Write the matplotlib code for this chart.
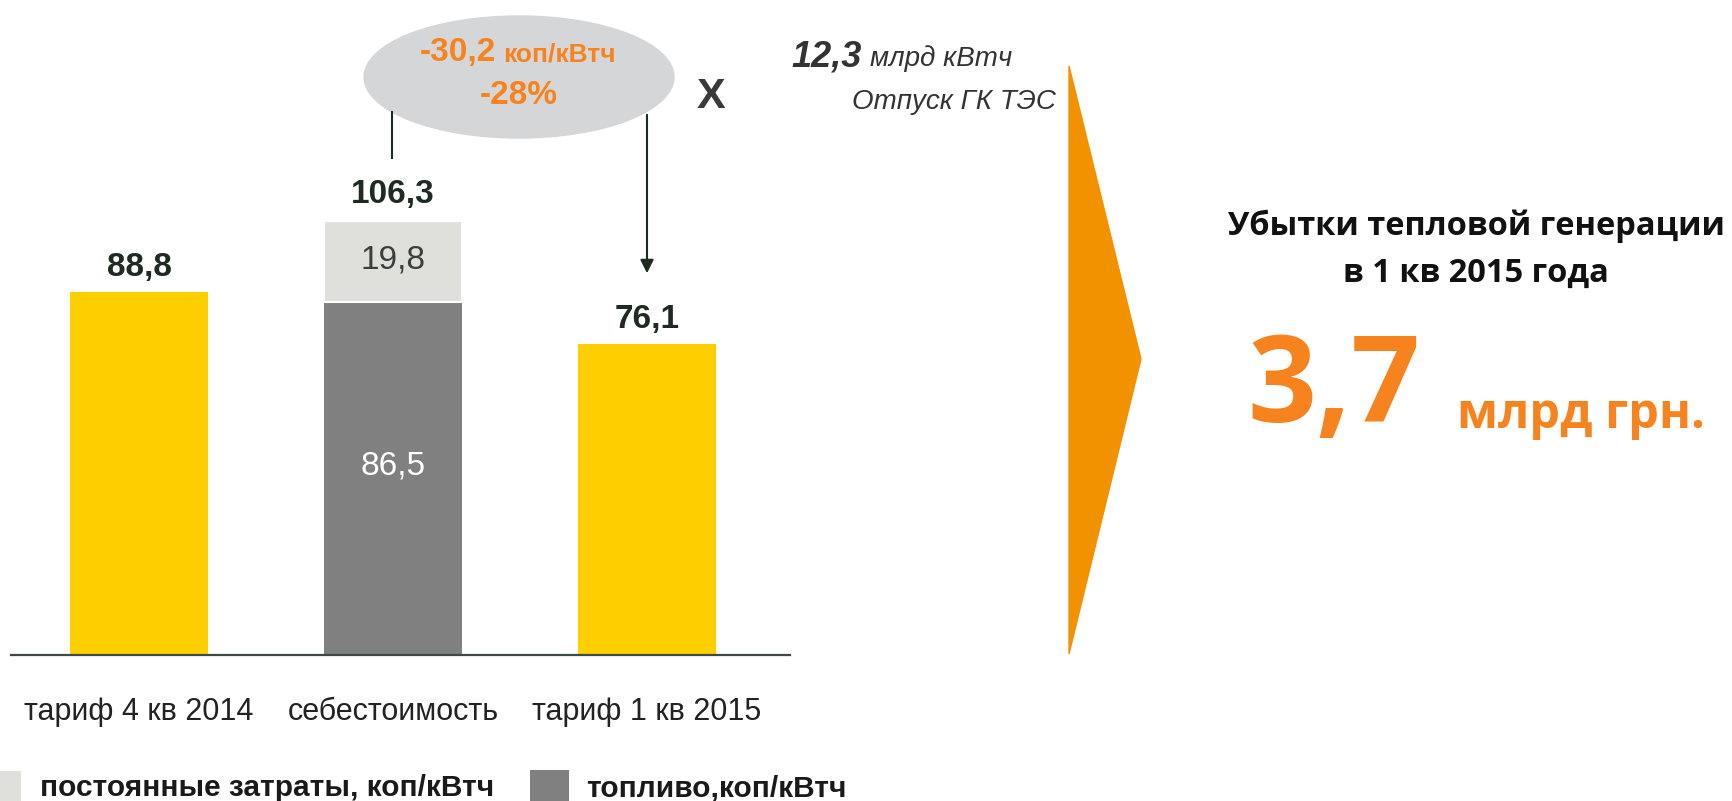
import matplotlib.pyplot as plt
from matplotlib.patches import Ellipse, Polygon

W, H = 1733, 801

# data
categories = ["тариф 4 кв 2014", "себестоимость", "тариф 1 кв 2015"]
tariffs = [88.8, None, 76.1]
fuel = 86.5
fixed = 19.8
cost_total = 106.3
legend_labels = ["постоянные затраты, коп/кВтч", "топливо,коп/кВтч"]
delta_text = "-30,2"
delta_unit = "коп/кВтч"
delta_pct = "-28%"
volume = "12,3"
volume_unit = "млрд кВтч"
volume_note = "Отпуск ГК ТЭС"
loss_title = "Убытки тепловой генерации\nв 1 кв 2015 года"
loss_value = "3,7"
loss_unit = "млрд грн."

YELLOW = "#FDCF00"
DARK = "#808080"
LIGHT = "#DFDFDC"
ORANGE = "#F7831F"
TXT = "#1E2A22"

narrow = ["Liberation Sans Narrow", "Liberation Sans", "DejaVu Sans"]
plt.rcParams["font.family"] = narrow

fig = plt.figure(figsize=(W / 100, H / 100), dpi=100)

# bar axes: baseline at y=655px, axis line from x=11 to 790
ax_bottom = (H - 655) / H
ax = fig.add_axes([11 / W, ax_bottom, 779 / W, 490 / H])
ax.set_xlim(-0.504, 2.563)
ax.set_ylim(0, 120)
width = 0.543

ax.bar(0, tariffs[0], width=width, color=YELLOW)
ax.bar(2, tariffs[2], width=width, color=YELLOW)
b_fuel = ax.bar(1, fuel, width=width, color=DARK)
b_fixed = ax.bar(1, fixed, width=width, bottom=fuel, color=LIGHT,
                 edgecolor="white", linewidth=1.5)

lab_kw = dict(ha="center", va="bottom", fontsize=24, fontweight="bold", color=TXT)
ax.text(0, tariffs[0] + 2.2, "88,8", **lab_kw)
ax.text(2, tariffs[2] + 2.2, "76,1", **lab_kw)
ax.text(1, cost_total + 2.8, "106,3", **lab_kw)
ax.text(1, fuel + fixed / 2 + 0.3, "19,8", ha="center", va="center", fontsize=24, color="#3A3F3C")
ax.text(1, fuel / 2 + 3, "86,5", ha="center", va="center", fontsize=24, color="white")

for s in ["top", "left", "right"]:
    ax.spines[s].set_visible(False)
ax.spines["bottom"].set_color("#3E4A42")
ax.spines["bottom"].set_linewidth(1.6)
ax.set_yticks([])
ax.set_xticks(range(3))
ax.set_xticklabels(categories, fontsize=22, color="#222222")
ax.tick_params(axis="x", length=0, pad=30)
ax.patch.set_alpha(0)

# legend
fig.legend([b_fixed, b_fuel], legend_labels, loc="center left",
           bbox_to_anchor=(-44 / W, 1 - 786 / H), ncol=2, frameon=False,
           prop=dict(family=narrow, size=21.5, weight="bold"),
           handlelength=1.3, handleheight=1.3, handletextpad=0.6, columnspacing=1.2,
           labelcolor="#1A1A1A")

# overlay in pixel coordinates for the annotations
ov = fig.add_axes([0, 0, 1, 1])
ov.set_xlim(0, W)
ov.set_ylim(H, 0)
ov.axis("off")
ov.patch.set_alpha(0)
ov.add_patch(Ellipse((519, 77), 310, 122, color="#D5D6D8", zorder=1))
ov.text(496, 53, delta_text, ha="right", va="center", fontsize=24, fontweight="bold", color=ORANGE)
ov.text(503, 55, delta_unit, ha="left", va="center", fontsize=19, fontweight="bold", color=ORANGE)
ov.text(519, 95, delta_pct, ha="center", va="center", fontsize=24, fontweight="bold", color=ORANGE)
ov.plot([392, 392], [112, 158], color=TXT, lw=1.5)
ov.annotate("", xy=(647, 276), xytext=(647, 112),
            arrowprops=dict(arrowstyle="-|>", color=TXT, lw=1.5, mutation_scale=20))
ov.text(711, 97, "X", ha="center", va="center", fontsize=31, fontweight="bold", color="#3A3A3A")

ov.text(862, 57, volume, ha="right", va="center", fontsize=26, fontweight="bold",
        style="italic", color="#333333")
ov.text(870, 59, volume_unit, ha="left", va="center", fontsize=20,
        style="italic", color="#333333")
ov.text(1056, 102, volume_note, ha="right", va="center", fontsize=20,
        style="italic", color="#333333")

# chevron
ov.add_patch(Polygon([(1069, 66), (1141, 359), (1069, 654)], closed=True,
                     color="#F39200", zorder=1))

# loss result
ov.text(1476, 250, loss_title, ha="center", va="center", fontsize=23.5, fontweight="bold",
        color="#111111", family="Open Sans", linespacing=1.55)
ov.text(1334, 390, loss_value, ha="center", va="center", fontsize=87, fontweight="bold",
        color=ORANGE, family="Open Sans")
ov.text(1457, 416, loss_unit, ha="left", va="center", fontsize=35, fontweight="bold",
        color=ORANGE, family="Open Sans")

fig.savefig("out.png", dpi=100, facecolor="white")
